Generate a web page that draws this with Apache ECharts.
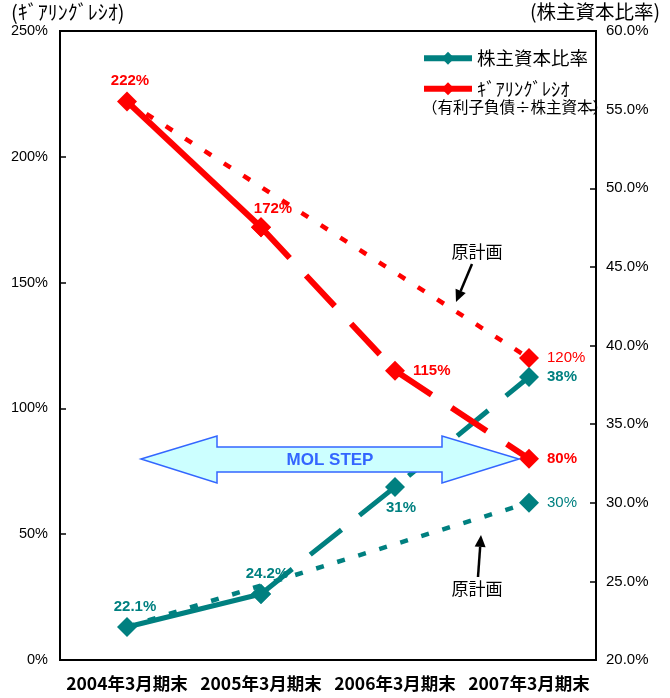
<!DOCTYPE html>
<html>
<head>
<meta charset="utf-8">
<script src="https://cdn.jsdelivr.net/npm/echarts@6/dist/echarts.min.js"></script>
<style>html,body{margin:0;padding:0;background:#fff;}#c{width:670px;height:698px;}</style>
</head>
<body>
<div id="c"></div>
<script>
var categories = ['2004年3月期末', '2005年3月期末', '2006年3月期末', '2007年3月期末'];
var gearingActual = [222, 172, 115, 80];
var gearingPlan = [222, null, null, 120];
var equityActual = [22.1, 24.2, 31, 38];
var equityPlan = [22.1, null, null, 30];
var leftTicks = {min: 0, max: 250, interval: 50};
var rightTicks = {min: 20, max: 60, interval: 5};

var RED = '#FF0000', TEAL = '#008080';
var NUM = "'Liberation Sans', 'Noto Sans CJK JP', sans-serif";
var JP = "'Noto Sans CJK JP', sans-serif";

function split(arr, solid) {
  return arr.map(function (v, i) { return solid ? (i <= 1 ? v : null) : (i >= 1 ? v : null); });
}
function lab(pos, opts) {
  return Object.assign({show: true, position: pos, fontFamily: NUM, fontSize: 15, fontWeight: 'bold',
    formatter: function (p) { return p.value + '%'; }}, opts || {});
}
function items(arr, labels) {
  return arr.map(function (v, i) {
    if (v == null) return null;
    var o = {value: v};
    if (labels[i]) o.label = labels[i]; else o.label = {show: false};
    return o;
  });
}

var gSolid = split(gearingActual, true), gDash = split(gearingActual, false);
var eSolid = split(equityActual, true), eDash = split(equityActual, false);

var series = [
  {name: '原計画G', type: 'line', yAxisIndex: 0, connectNulls: true, z: 2,
   data: gearingPlan.map(function (v, i) { return v == null ? null : {value: v, symbol: i === 0 ? 'none' : 'diamond',
     label: i === 0 ? {show: false} : lab('right', {fontWeight: 'normal', color: RED, distance: 8})}; }),
   symbol: 'diamond', symbolSize: 20, itemStyle: {color: RED},
   lineStyle: {color: RED, width: 4.5, type: [8, 15]}},
  {name: '原計画E', type: 'line', yAxisIndex: 1, connectNulls: true, z: 2,
   data: equityPlan.map(function (v, i) { return v == null ? null : {value: v, symbol: i === 0 ? 'none' : 'diamond',
     label: i === 0 ? {show: false} : lab('right', {fontWeight: 'normal', color: TEAL, distance: 8})}; }),
   symbol: 'diamond', symbolSize: 20, itemStyle: {color: TEAL},
   lineStyle: {color: TEAL, width: 4.5, type: [8, 14]}},
  {name: '株主資本比率', type: 'line', yAxisIndex: 1, z: 3,
   data: items(eSolid, [lab('top', {color: TEAL, offset: [8, 2]}), lab('top', {color: TEAL, offset: [6, 2]})]),
   symbol: 'diamond', symbolSize: 20, itemStyle: {color: TEAL},
   lineStyle: {color: TEAL, width: 5}},
  {name: '株主資本比率', type: 'line', yAxisIndex: 1, z: 3,
   data: items(eDash, [null, null, lab('bottom', {color: TEAL, offset: [6, -2]}), lab('right', {color: TEAL, distance: 8})]),
   symbol: 'diamond', symbolSize: 20, itemStyle: {color: TEAL},
   lineStyle: {color: TEAL, width: 5, type: [40, 23]}},
  {name: 'ｷﾞｱﾘﾝｸﾞﾚｼｵ', type: 'line', yAxisIndex: 0, z: 4,
   data: items(gSolid, [lab('top', {color: RED, offset: [3, 2]}), lab('top', {color: RED, offset: [12, 4]})]),
   symbol: 'diamond', symbolSize: 20, itemStyle: {color: RED},
   lineStyle: {color: RED, width: 6}},
  {name: 'ｷﾞｱﾘﾝｸﾞﾚｼｵ', type: 'line', yAxisIndex: 0, z: 4,
   data: items(gDash, [null, null, lab('right', {color: RED, distance: 8}), lab('right', {color: RED, distance: 8})]),
   symbol: 'diamond', symbolSize: 20, itemStyle: {color: RED},
   lineStyle: {color: RED, width: 6, type: [42, 24]}}
];

function arrow(x1, y1, x2, y2) {
  var dx = x2 - x1, dy = y2 - y1, L = Math.sqrt(dx * dx + dy * dy);
  var ux = dx / L, uy = dy / L, hl = 12, hw = 5.5;
  var bx = x2 - ux * hl, by = y2 - uy * hl;
  return [
    {type: 'line', shape: {x1: x1, y1: y1, x2: bx, y2: by}, style: {stroke: '#000', lineWidth: 2.5}, z: 50},
    {type: 'polygon', shape: {points: [[x2, y2], [bx - uy * hw, by + ux * hw], [bx + uy * hw, by - ux * hw]]},
     style: {fill: '#000'}, z: 50}
  ];
}

var graphic = [
  {type: 'text', left: 11, top: 2, style: {text: '(ｷﾞｱﾘﾝｸﾞﾚｼｵ)', font: '20px ' + JP, fill: '#000'}},
  {type: 'text', left: 530, top: 2, style: {text: '(株主資本比率)', font: '19.5px ' + JP, fill: '#000'}},
  {type: 'text', left: 422, top: 99, style: {text: '（有利子負債÷株主資本）', font: '15.5px ' + JP, fill: '#000'}, z: 20},
  {type: 'polygon', z: 40, shape: {points: [[141, 459], [217, 436], [217, 447], [442, 447], [442, 436], [519, 459],
     [442, 483], [442, 472], [217, 472], [217, 483]]},
   style: {fill: '#CCFFFF', stroke: '#3366FF', lineWidth: 1.5}},
  {type: 'text', z: 41, x: 330, y: 460, style: {text: 'MOL STEP', font: 'bold 17px ' + NUM, fill: '#3366FF',
     textAlign: 'center', textVerticalAlign: 'middle'}},
  {type: 'text', z: 50, x: 477, y: 252, style: {text: '原計画', font: '17px ' + JP, fill: '#000',
     textAlign: 'center', textVerticalAlign: 'middle'}},
  {type: 'text', z: 50, x: 477, y: 589, style: {text: '原計画', font: '17px ' + JP, fill: '#000',
     textAlign: 'center', textVerticalAlign: 'middle'}}
].concat(arrow(472, 264, 456, 302)).concat(arrow(478, 577, 481, 535));

var chart = echarts.init(document.getElementById('c'), null, {renderer: 'canvas'});
chart.setOption({
  animation: false,
  backgroundColor: '#fff',
  grid: {left: 60, right: 74, top: 31, bottom: 38, show: true, borderColor: '#000', borderWidth: 2},
  legend: {
    data: ['株主資本比率', 'ｷﾞｱﾘﾝｸﾞﾚｼｵ'], left: 416, top: 44, orient: 'vertical', itemGap: 12,
    itemWidth: 48, itemHeight: 16, itemStyle: {}, lineStyle: {width: 6},
    textStyle: {fontFamily: JP, fontSize: 18.5, color: '#000'}
  },
  xAxis: {
    type: 'category', data: categories, boundaryGap: true,
    axisLine: {lineStyle: {color: '#000', width: 2}},
    axisTick: {inside: true, length: 6, lineStyle: {color: '#000', width: 1.5}},
    axisLabel: {interval: 0, hideOverlap: false, fontFamily: JP, fontSize: 17.5, fontWeight: 'bold', color: '#000', margin: 15}
  },
  yAxis: [
    {type: 'value', position: 'left', min: leftTicks.min, max: leftTicks.max, interval: leftTicks.interval,
     axisLine: {show: true, lineStyle: {color: '#000', width: 2}},
     axisTick: {show: true, inside: true, length: 6, lineStyle: {color: '#000', width: 1.5}},
     splitLine: {show: false},
     axisLabel: {fontFamily: NUM, fontSize: 14.5, color: '#000', margin: 12, formatter: '{value}%'}},
    {type: 'value', position: 'right', min: rightTicks.min, max: rightTicks.max, interval: rightTicks.interval,
     axisLine: {show: true, lineStyle: {color: '#000', width: 2}},
     axisTick: {show: true, inside: true, length: 6, lineStyle: {color: '#000', width: 1.5}},
     splitLine: {show: false},
     axisLabel: {fontFamily: NUM, fontSize: 15, color: '#000', margin: 10,
       formatter: function (v) { return v.toFixed(1) + '%'; }}}
  ],
  series: series,
  graphic: graphic
});
</script>
</body>
</html>
